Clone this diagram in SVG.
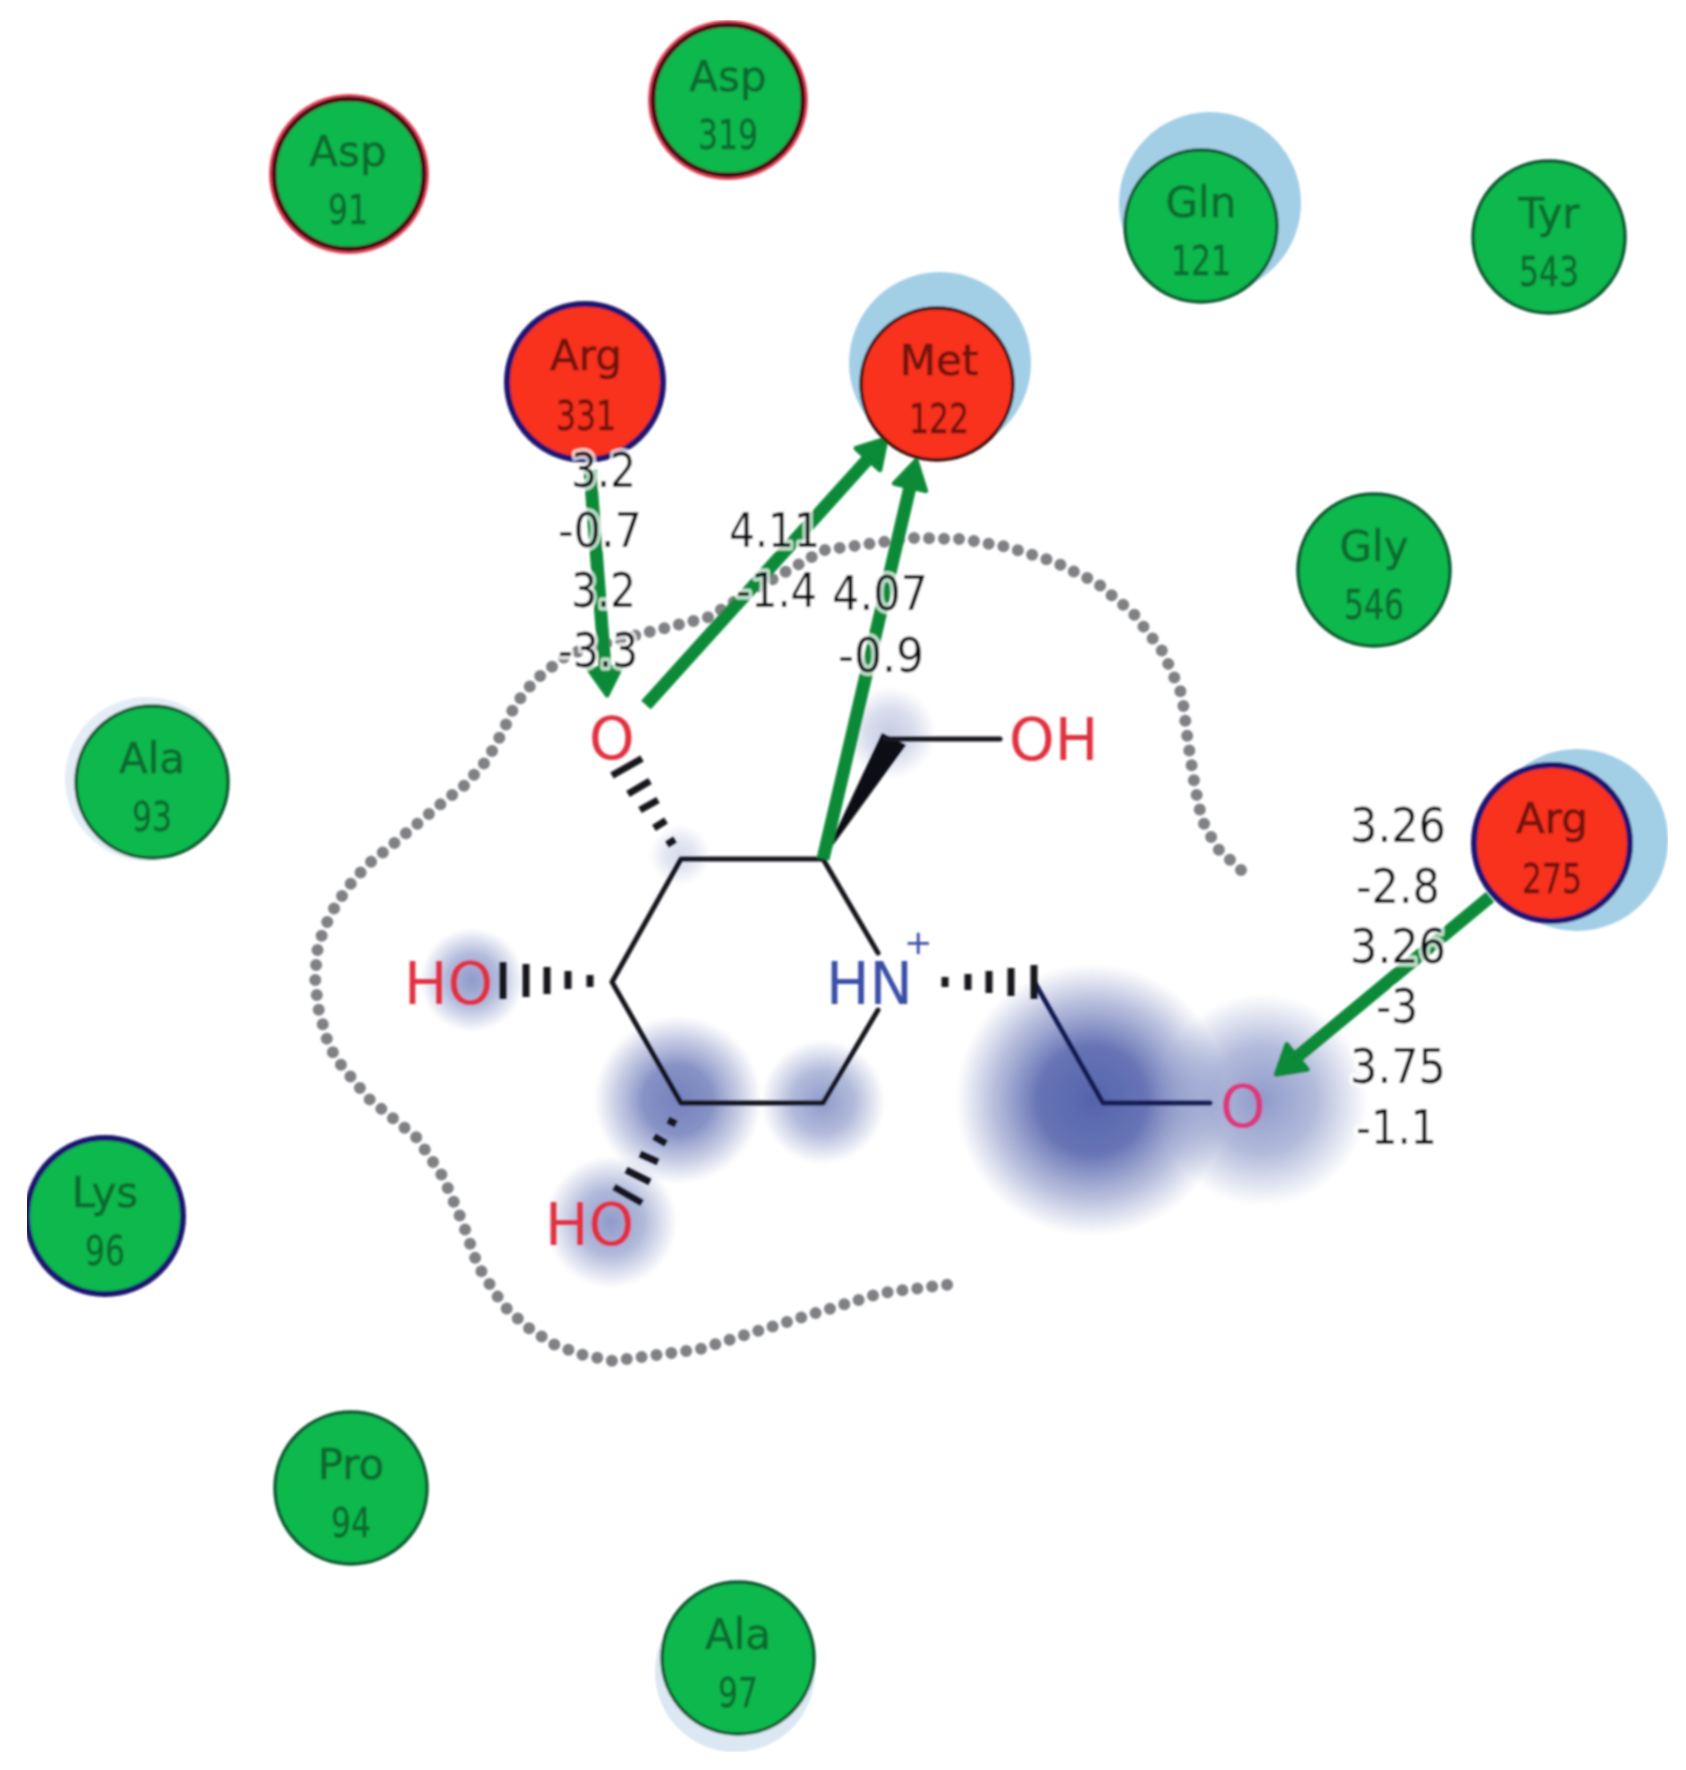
<svg xmlns="http://www.w3.org/2000/svg" width="1686" height="1770" viewBox="0 0 1686 1770">
<style>
text{font-family:"DejaVu Sans","Liberation Sans",sans-serif}
.res{fill:#0cb84e;stroke:#0a5a30;stroke-width:3.500}
.red{fill:#f8301f;stroke:#3a1010;stroke-width:3.500}
.acid{stroke:#440d18;stroke-width:5}
.glow{fill:#ea4a5c}
.base{stroke:#1c1670;stroke-width:6}
.halo{fill:#a3cfe6}
.n1{font-size:42px;text-anchor:middle;fill:#0a6a2e;stroke:#0a6a2e;stroke-width:.6px}
.n2{font-size:40px;text-anchor:middle;fill:#0a6a2e;stroke:#0a6a2e;stroke-width:.5px}
.red-t .n1,.red-t .n2{fill:#6e1410;stroke:#6e1410}
.bond{fill:none;stroke:#15181e;stroke-width:5;stroke-linejoin:round;stroke-linecap:round}
.hash{fill:none;stroke:#12161c;stroke-width:7}
.atom{font-size:58px;fill:#e0303f}
.hb{fill:none;stroke:#078a38;stroke-width:13;marker-end:url(#head)}
.lab{font-size:48px;fill:#0e1014;stroke:#fff;stroke-width:7px;stroke-opacity:.75;paint-order:stroke;stroke-linejoin:round}
.dots{fill:none;stroke:#7f8184;stroke-width:12;stroke-linecap:round;stroke-linejoin:round;stroke-dasharray:0 15}
</style>
<defs>
<radialGradient id="blob"><stop offset="0" stop-color="#4c5ca8" stop-opacity=".95"/><stop offset=".4" stop-color="#4c5ca8" stop-opacity=".85"/><stop offset=".72" stop-color="#5f6eb2" stop-opacity=".45"/><stop offset="1" stop-color="#6674b6" stop-opacity="0"/></radialGradient>
<radialGradient id="blob2"><stop offset="0" stop-color="#7382bd" stop-opacity=".8"/><stop offset=".5" stop-color="#7382bd" stop-opacity=".55"/><stop offset="1" stop-color="#7382bd" stop-opacity="0"/></radialGradient>
<marker id="head" markerUnits="userSpaceOnUse" markerWidth="48" markerHeight="48" refX="4" refY="24" orient="auto"><path d="M4,8 L31,24 L4,40Z" fill="#078a38" stroke="#078a38" stroke-width="5" stroke-linejoin="round"/></marker>
<filter id="soft" x="0" y="0" width="1" height="1" filterUnits="objectBoundingBox"><feGaussianBlur stdDeviation="1"/></filter>
</defs>
<rect width="1686" height="1770" fill="#fff"/>
<g filter="url(#soft)">
<g id="blobs">
<circle cx="472" cy="980" r="52" fill="url(#blob2)"/>
<circle cx="678" cy="1100" r="84" fill="url(#blob)" opacity=".8"/>
<circle cx="823" cy="1102" r="62" fill="url(#blob2)"/>
<circle cx="611" cy="1222" r="66" fill="url(#blob2)"/>
<circle cx="1092" cy="1100" r="136" fill="url(#blob)"/>
<circle cx="1262" cy="1100" r="106" fill="url(#blob2)"/>
<circle cx="890" cy="733" r="46" fill="url(#blob2)" opacity=".5"/>
<circle cx="680" cy="855" r="30" fill="url(#blob2)" opacity=".35"/>
</g>
<g id="pocket"><path class="dots" d="M1241,870 L1217,848 L1202,820 L1195,787 L1188,742 L1182,695 L1163,652 L1133,613 L1097,583 L1055,562 L1008,547 L962,539 L913,538 L824,550 L757,588 L709,617 L645,633 L600,645 L567,655 L535,680 L515,705 L502,733 L487,760 L465,785 L442,803 L417,824 L392,845 L367,865 L347,888 L330,915 L318,945 L315,977 L318,1007 L328,1043 L337,1060 L368,1098 L417,1138 L443,1177 L462,1221 L478,1266 L503,1305 L527,1327 L553,1344 L583,1355 L613,1361 L700,1349 L790,1321 L881,1293 L960,1283"/></g>
<g id="ligand">
<path class="bond" d="M878,953 L823,859 L681,859 L612,982 L681,1103 L823,1103 L878,1010"/>
<path d="M823,859 L882,733 L906,745 Z" fill="#0c0e12"/>
<path class="bond" d="M885,739 L1000,739"/>
<path class="bond" d="M1035,983 L1103,1103 L1210,1103" style="stroke:#161b52"/>
<path class="hash" d="M590,975v12M568,971v18M547,967v27M526,964v33M503,962v37"/>
<path class="hash" d="M945,977v10M968,974v16M989,971v22M1011,968v28M1034,965v34"/>
<path class="hash" d="M667,844.500L675,839.500M654,828L666,820.500M640,810L658,800M628,794L650,781M612,775.500L642,758.500"/>
<path class="hash" d="M668,1120L676,1124M654,1136.500L666,1143.500M640,1154L658,1162M626,1170L650,1182M614,1187L642,1203"/>
<text class="atom" x="589" y="759">O</text>
<text class="atom" x="1009" y="760">OH</text>
<text class="atom" x="404" y="1004">HO</text>
<text class="atom" x="545" y="1245">HO</text>
<text class="atom" x="826" y="1004" style="fill:#3a50a6">HN</text>
<text x="904" y="954" style="font-size:34px;fill:#3a50a6">+</text>
<text class="atom" x="1220" y="1127" style="fill:#d83a80">O</text>
</g>
<g id="connectors">
<path class="hb" d="M590,470 L605,668"/>
<path class="hb" d="M646,705 L868,459"/>
<path class="hb" d="M823,859 L910,487"/>
<path class="hb" d="M1490,897 L1297,1057"/>
</g>
<g id="asp91"><circle class="glow" cx="349" cy="174" r="80"/><circle class="res acid" cx="349" cy="174" r="75"/><text class="n1" x="348" y="166">Asp</text><text class="n2" x="348" y="224" textLength="40" lengthAdjust="spacingAndGlyphs">91</text></g>
<g id="asp319"><circle class="glow" cx="728" cy="100" r="80"/><circle class="res acid" cx="728" cy="100" r="75"/><text class="n1" x="728" y="91">Asp</text><text class="n2" x="728" y="149" textLength="60" lengthAdjust="spacingAndGlyphs">319</text></g>
<g id="gln121"><circle class="halo" cx="1210" cy="203" r="91"/><circle class="res" cx="1201" cy="226" r="76"/><text class="n1" x="1201" y="217">Gln</text><text class="n2" x="1201" y="275" textLength="60" lengthAdjust="spacingAndGlyphs">121</text></g>
<g id="tyr543"><circle class="res" cx="1549" cy="237" r="76"/><text class="n1" x="1549" y="228">Tyr</text><text class="n2" x="1549" y="286" textLength="60" lengthAdjust="spacingAndGlyphs">543</text></g>
<g id="gly546"><circle class="res" cx="1374" cy="570" r="76"/><text class="n1" x="1374" y="561">Gly</text><text class="n2" x="1374" y="619" textLength="60" lengthAdjust="spacingAndGlyphs">546</text></g>
<g id="ala93"><circle cx="147" cy="779" r="82" fill="#e4ecf5"/><circle class="res" cx="152" cy="782" r="76"/><text class="n1" x="152" y="773">Ala</text><text class="n2" x="152" y="831" textLength="40" lengthAdjust="spacingAndGlyphs">93</text></g>
<g id="lys96"><circle class="res base" cx="105" cy="1216" r="78"/><text class="n1" x="105" y="1207">Lys</text><text class="n2" x="105" y="1265" textLength="40" lengthAdjust="spacingAndGlyphs">96</text></g>
<g id="pro94"><circle class="res" cx="351" cy="1488" r="76"/><text class="n1" x="351" y="1479">Pro</text><text class="n2" x="351" y="1537" textLength="40" lengthAdjust="spacingAndGlyphs">94</text></g>
<g id="ala97"><circle cx="735" cy="1672" r="80" fill="#dbe7f2"/><circle class="res" cx="738" cy="1658" r="76"/><text class="n1" x="738" y="1649">Ala</text><text class="n2" x="738" y="1707" textLength="40" lengthAdjust="spacingAndGlyphs">97</text></g>
<g id="arg331" class="red-t"><circle class="red base" cx="585" cy="382" r="78"/><text class="n1" x="586" y="370">Arg</text><text class="n2" x="586" y="430" textLength="60" lengthAdjust="spacingAndGlyphs">331</text></g>
<g id="met122" class="red-t"><circle class="halo" cx="940" cy="363" r="91"/><circle class="red" cx="937" cy="384" r="76"/><text class="n1" x="939" y="375">Met</text><text class="n2" x="939" y="433" textLength="60" lengthAdjust="spacingAndGlyphs">122</text></g>
<g id="arg275" class="red-t"><circle class="halo" cx="1577" cy="840" r="91"/><circle class="red base" cx="1552" cy="843" r="78"/><text class="n1" x="1552" y="833">Arg</text><text class="n2" x="1552" y="893" textLength="60" lengthAdjust="spacingAndGlyphs">275</text></g>
<g id="labels">
<text class="lab" x="571" y="487" textLength="65" lengthAdjust="spacingAndGlyphs">3.2</text>
<text class="lab" x="558" y="547" textLength="84" lengthAdjust="spacingAndGlyphs">-0.7</text>
<text class="lab" x="571" y="607" textLength="65" lengthAdjust="spacingAndGlyphs">3.2</text>
<text class="lab" x="558" y="667" textLength="80" lengthAdjust="spacingAndGlyphs">-3.3</text>
<text class="lab" x="729" y="547" textLength="91" lengthAdjust="spacingAndGlyphs">4.11</text>
<text class="lab" x="736" y="607" textLength="81" lengthAdjust="spacingAndGlyphs">-1.4</text>
<text class="lab" x="832" y="610" textLength="96" lengthAdjust="spacingAndGlyphs">4.07</text>
<text class="lab" x="838" y="672" textLength="86" lengthAdjust="spacingAndGlyphs">-0.9</text>
<text class="lab" x="1350" y="842" textLength="96" lengthAdjust="spacingAndGlyphs">3.26</text>
<text class="lab" x="1356" y="903" textLength="84" lengthAdjust="spacingAndGlyphs">-2.8</text>
<text class="lab" x="1350" y="963" textLength="96" lengthAdjust="spacingAndGlyphs">3.26</text>
<text class="lab" x="1376" y="1023" textLength="42" lengthAdjust="spacingAndGlyphs">-3</text>
<text class="lab" x="1350" y="1083" textLength="96" lengthAdjust="spacingAndGlyphs">3.75</text>
<text class="lab" x="1356" y="1144" textLength="81" lengthAdjust="spacingAndGlyphs">-1.1</text>
</g>
</g>
</svg>
